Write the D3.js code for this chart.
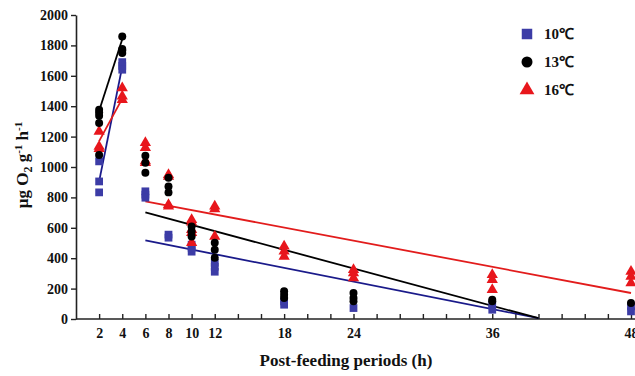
<!DOCTYPE html>
<html><head><meta charset="utf-8">
<script src="https://cdn.jsdelivr.net/npm/d3@7"></script>
<style>
html,body{margin:0;padding:0;background:#fff;}
svg text{font-family:"Liberation Serif","Times New Roman",serif;font-weight:bold;}
</style></head>
<body><svg id="c" width="635" height="376"></svg>
<script>
// ---- data ----
const hours = [2, 4, 6, 8, 10, 12, 18, 24, 36, 48];
const xTicks = [2, 4, 6, 8, 10, 12, 18, 24, 36, 48];
const yTicks = [0, 200, 400, 600, 800, 1000, 1200, 1400, 1600, 1800, 2000];
const series = ["10℃", "13℃", "16℃"];
// observed values per hour (µg O2 g-1 h-1)
const t10 = [[1037, 905, 833], [1690, 1665, 1640], [840, 818, 798], [555, 535], [489, 469, 443], [370, 344, 311], [116, 94], [72], [94, 61], [83, 50]];
const t13 = [[1377, 1359, 1337, 1289, 1079], [1859, 1776, 1767, 1750], [1074, 1028, 962], [929, 872, 833], [609, 576, 543], [502, 456, 403], [182, 160, 138], [171, 138, 116], [127, 116], [105]];
const t16 = [[1234, 1135, 1120], [1520, 1465, 1443], [1160, 1126, 1040, 1028], [949, 938, 752, 741], [653, 636, 587, 568, 502], [741, 724, 543], [478, 445, 412], [324, 303, 270], [291, 259, 193], [313, 280, 237]];
// fitted lines: [h, value] endpoints
const fit10a = [[2, 905], [4, 1660]];
const fit13a = [[2, 1370], [4, 1840]];
const fit16a = [[2, 1170], [4, 1450]];
const fit10b = [[6, 517], [40, 5]];
const fit13b = [[6, 701], [40, 5]];
const fit16b = [[6, 774], [48, 171]];

const colors = {"10℃": "#3c3ca6", "13℃": "#000000", "16℃": "#e8161c"};
const lineColors = {"10℃": "#1a1a8a", "13℃": "#000000", "16℃": "#e21c1c"};

const svg = d3.select("#c");
const x = d3.scaleLinear().domain([0, 48]).range([76, 631]);
const y = d3.scaleLinear().domain([0, 2000]).range([319, 15]);

// axes
const yAxis = d3.axisLeft(y).tickValues(yTicks).tickSize(5).tickSizeOuter(0).tickPadding(3).tickFormat(d3.format("d"));
const gy = svg.append("g").attr("transform", "translate(76,0)").call(yAxis);
gy.select(".domain").attr("stroke", "#222").attr("stroke-width", 1.6);
gy.selectAll(".tick line").attr("stroke", "#222").attr("stroke-width", 1.4);
gy.selectAll(".tick text").attr("font-size", 14).attr("fill", "#111");

const xAxis = d3.axisBottom(x).tickValues(d3.range(2, 49, 2)).tickSize(-5).tickSizeOuter(0).tickPadding(9)
  .tickFormat(d => xTicks.includes(d) ? d : "");
const gx = svg.append("g").attr("transform", "translate(0,319)").call(xAxis);
gx.select(".domain").attr("stroke", "#222").attr("stroke-width", 1.6).attr("d", "M76,0H640");
gx.selectAll(".tick line").attr("stroke", "#222").attr("stroke-width", 1.4);
gx.selectAll(".tick text").attr("font-size", 14).attr("fill", "#111");

// lines
const line = d3.line().x(d => x(d[0])).y(d => y(d[1]));
[[fit10a, "10℃"], [fit13a, "13℃"], [fit16a, "16℃"], [fit10b, "10℃"], [fit13b, "13℃"], [fit16b, "16℃"]].forEach(([pts, s]) => {
  svg.append("path").attr("d", line(pts)).attr("fill", "none").attr("stroke", lineColors[s]).attr("stroke-width", 1.8);
});

// points
const sym = {"10℃": d3.symbolSquare, "13℃": d3.symbolCircle, "16℃": d3.symbolTriangle};
const size = {"10℃": 60, "13℃": 50, "16℃": 55};
function drawPts(data, s) {
  const pts = [];
  data.forEach((vals, i) => vals.forEach(v => pts.push([hours[i], v])));
  svg.append("g").selectAll("path").data(pts).join("path")
    .attr("d", d3.symbol().type(sym[s]).size(size[s]))
    .attr("transform", d => `translate(${x(d[0])},${y(d[1])})`)
    .attr("fill", colors[s]);
}
drawPts(t10, "10℃");
drawPts(t16, "16℃");
drawPts(t13, "13℃");

// legend
const leg = svg.append("g");
series.forEach((s, i) => {
  const ly = 34 + i * 28;
  leg.append("path").attr("d", d3.symbol().type(sym[s]).size(s === "10℃" ? 110 : 95)())
    .attr("transform", `translate(527,${ly})`).attr("fill", colors[s]);
  leg.append("text").attr("x", 544).attr("y", ly + 5).attr("font-size", 15).attr("fill", "#111").text(s);
});

// titles
svg.append("text").attr("x", 346).attr("y", 366).attr("text-anchor", "middle")
  .attr("font-size", 17).attr("fill", "#111").text("Post-feeding periods (h)");
const yt = svg.append("text").attr("transform", "translate(28,165) rotate(-90)").attr("text-anchor", "middle")
  .attr("font-size", 17).attr("fill", "#111");
yt.append("tspan").text("μg O");
yt.append("tspan").attr("font-size", 12).attr("dy", 4).text("2");
yt.append("tspan").attr("dy", -4).text(" g");
yt.append("tspan").attr("font-size", 11).attr("dy", -6).text("-1");
yt.append("tspan").attr("dy", 6).text(" h");
yt.append("tspan").attr("font-size", 11).attr("dy", -6).text("-1");
</script></body></html>
